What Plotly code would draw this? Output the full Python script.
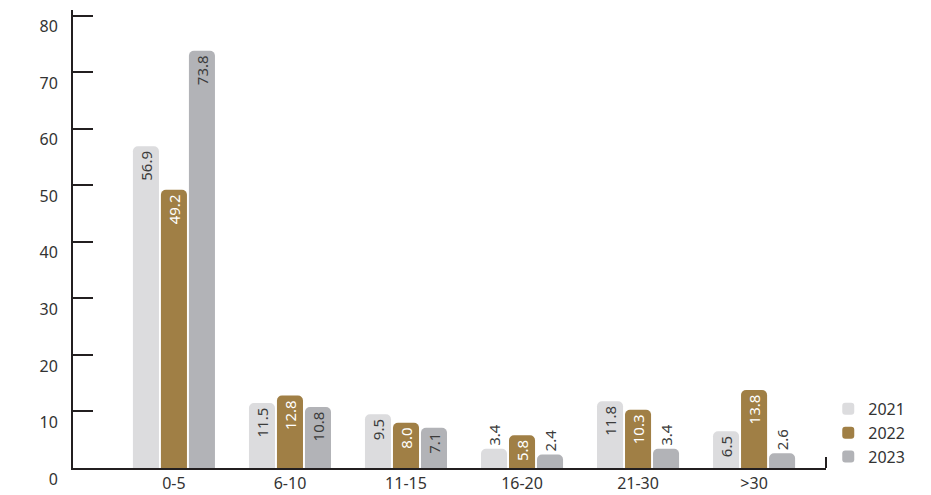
import plotly.graph_objects as go

categories = ["0-5", "6-10", "11-15", "16-20", "21-30", ">30"]
years = ["2021", "2022", "2023"]
v2021 = [56.9, 11.5, 9.5, 3.4, 11.8, 6.5]
v2022 = [49.2, 12.8, 8.0, 5.8, 10.3, 13.8]
v2023 = [73.8, 10.8, 7.1, 2.4, 3.4, 2.6]
y_ticks = [0, 10, 20, 30, 40, 50, 60, 70, 80]

colors = ["#dcdcde", "#a07f45", "#b2b3b7"]
inside_text = ["#3c3c3c", "#ffffff", "#3c3c3c"]
FONT = "Noto Sans"
AX = "#231f20"

fig = go.Figure()
for name, vals, c, tc in zip(years, [v2021, v2022, v2023], colors, inside_text):
    fig.add_trace(go.Bar(
        name=name, x=categories, y=vals,
        marker=dict(color=c, cornerradius=5, line=dict(width=0)),
        texttemplate="%{y:.1f}",
        textposition=["inside" if v > 5 else "outside" for v in vals],
        textangle=-90,
        insidetextanchor="end",
        insidetextfont=dict(color=tc, size=15, family=FONT),
        outsidetextfont=dict(color="#3c3c3c", size=15, family=FONT),
        cliponaxis=False,
    ))

fig.update_layout(
    width=931, height=495,
    margin=dict(l=73, r=105, t=10, b=27, autoexpand=False),
    paper_bgcolor="white", plot_bgcolor="white",
    barmode="group", bargap=0.276, bargroupgap=0.07,
    font=dict(family=FONT, color="#333333", size=16),
    legend=dict(x=1.003, y=0.166, xanchor="left", yanchor="top",
                font=dict(size=16, color="#333333"), tracegroupgap=0,
                itemwidth=30),
    showlegend=True,
)
fig.update_xaxes(
    range=[-0.87, 5.62], showline=True, linecolor=AX, linewidth=2,
    ticks="", showgrid=False, zeroline=False, automargin=False,
    ticklabelstandoff=0,
    tickfont=dict(size=16, color="#333333"),
)
fig.update_yaxes(
    range=[0, 81], tickvals=y_ticks, showline=True, linecolor=AX, linewidth=2,
    ticks="inside", ticklen=20, tickwidth=2, tickcolor=AX, automargin=False,
    showgrid=False, zeroline=False, ticklabelshift=11, ticklabelstandoff=10,
    tickfont=dict(size=16, color="#333333"),
)
fig.add_shape(type="line", xref="paper", yref="paper", x0=1, x1=1, y0=0, y1=0.024,
              line=dict(color=AX, width=2))
fig.write_html("out.html")
